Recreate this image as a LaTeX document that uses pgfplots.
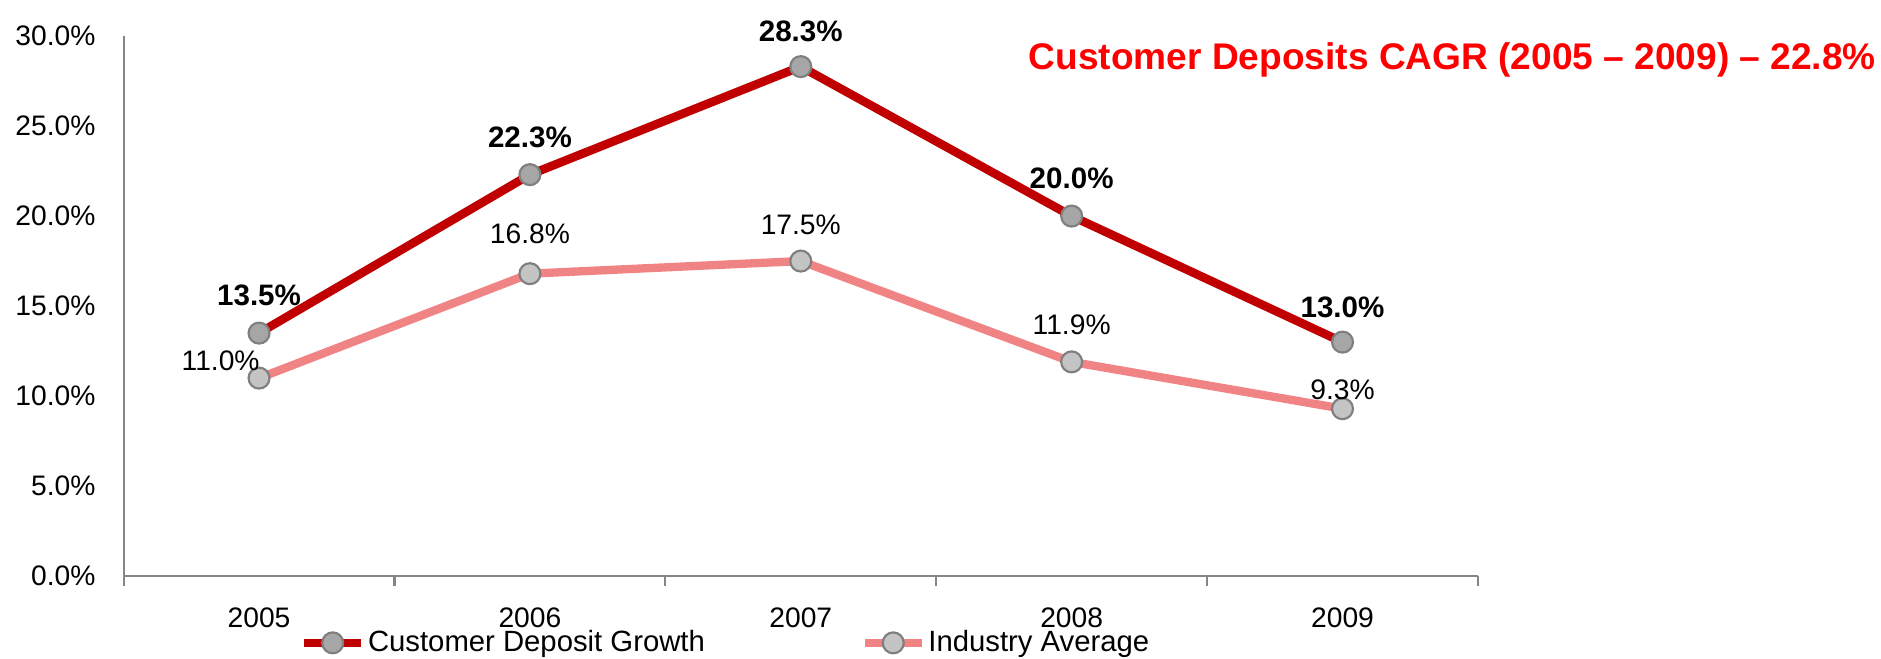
\documentclass[border=0pt]{standalone}
\usepackage{pgfplots}
\pgfplotsset{compat=1.18}
\usepackage{pgfplotstable}
\usepackage{fontspec}
\setmainfont{Liberation Sans}
\definecolor{cdred}{HTML}{C00000}
\definecolor{indpink}{HTML}{F08484}
\definecolor{axgray}{HTML}{868686}
\definecolor{mkdark}{HTML}{A6A6A6}
\definecolor{mklight}{HTML}{C4C4C4}
\definecolor{mkedge}{HTML}{7F7F7F}

\pgfplotstableread{
x y dx dy
0 13.5 0 14
1 22.3 0 14
2 28.3 0 13
3 20.0 0 14
4 13.0 0 13
}\cdg
\pgfplotstableread{
x y dx dy
0 11.0 -14.3 6.3
1 16.8 0 15
2 17.5 0 13.4
3 11.9 0 13.8
4 9.3 0 7.1
}\ind

\begin{document}
\begin{tikzpicture}
\useasboundingbox (-46pt,-30.5pt) rectangle (654pt,214.4pt);
\begin{axis}[
  at={(0,0)}, anchor=south west,
  width=504pt, height=201pt, scale only axis,
  xmin=-0.5, xmax=4.5, ymin=0, ymax=30,
  axis lines*=left,
  axis line style={axgray, line width=0.8pt},
  xtick={0,1,2,3,4},
  xticklabels={2005,2006,2007,2008,2009},
  major x tick style={draw=none},
  minor xtick={-0.5,0.5,1.5,2.5,3.5,4.5},
  minor tick length=3.6pt,
  minor x tick style={axgray, line width=0.8pt},
  tick align=outside,
  ytick={0,5,10,15,20,25,30},
  yticklabels={0.0\%,5.0\%,10.0\%,15.0\%,20.0\%,25.0\%,30.0\%},
  major y tick style={draw=none},
  tick label style={font=\fontsize{10.5}{12}\selectfont},
  yticklabel style={xshift=-2.7pt},
  xticklabel style={yshift=-3.8pt},
  clip=false,
  legend columns=2,
  legend style={draw=none, fill=none, at={(0.124,-0.1235)}, anchor=west,
    font=\fontsize{10.9}{12}\selectfont,
    nodes={inner xsep=1pt, inner ysep=0pt},
    /tikz/every even column/.append style={column sep=57pt}},
  legend image code/.code={\draw[mark repeat=2,mark phase=2] plot coordinates {(0cm,0cm) (0.37cm,0cm) (0.74cm,0cm)};},
  point meta=y,
  nodes near coords={\pgfmathprintnumber[fixed,fixed zerofill,precision=1,assume math mode=true]{\pgfplotspointmeta}\%},
  visualization depends on={\thisrow{dx} \as \dx},
  visualization depends on={\thisrow{dy} \as \dy},
  every node near coord/.append style={anchor=center, xshift=\dx pt, yshift=\dy pt, text=black},
]
\addplot[cdred, line width=3.2pt, mark=*, mark size=3.9pt,
  mark options={fill=mkdark, draw=mkedge, line width=0.8pt},
  nodes near coords style={font=\fontsize{11}{13}\selectfont\bfseries}]
  table[x=x, y=y] {\cdg};
\addlegendentry{Customer Deposit Growth}
\addplot[indpink, line width=3.1pt, mark=*, mark size=3.9pt,
  mark options={fill=mklight, draw=mkedge, line width=0.8pt},
  nodes near coords style={font=\fontsize{10.5}{12}\selectfont}]
  table[x=x, y=y] {\ind};
\addlegendentry{Industry Average}
\end{axis}
\node[text=red, font=\fontsize{13.8}{16}\selectfont\bfseries] at (494.5pt,192pt) {Customer Deposits CAGR (2005 -- 2009) -- 22.8\%};
\end{tikzpicture}
\end{document}
